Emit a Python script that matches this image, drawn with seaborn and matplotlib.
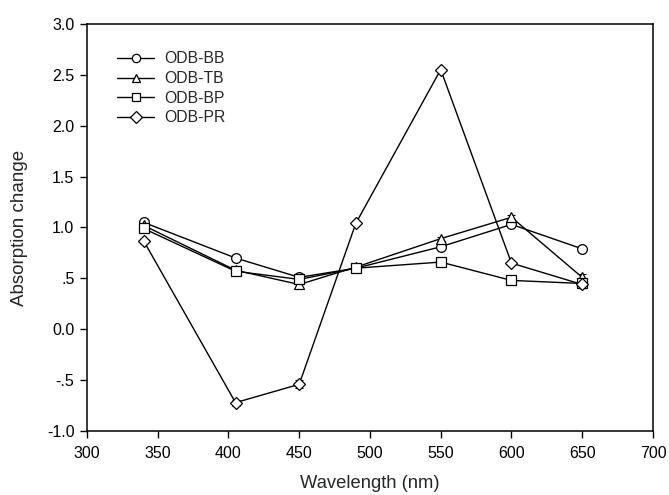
import matplotlib
matplotlib.use("Agg")
import matplotlib.pyplot as plt
import seaborn as sns
import pandas as pd
import numpy as np

wavelength = [340, 405, 450, 490, 550, 600, 650]
series_names = ["ODB-BB", "ODB-TB", "ODB-BP", "ODB-PR"]
bb = [1.05, 0.70, 0.51, 0.60, 0.81, 1.03, 0.79]
tb = [1.02, 0.58, 0.44, 0.61, 0.89, 1.10, 0.51]
bp = [0.99, 0.57, 0.49, 0.60, 0.66, 0.48, 0.45]
pr = [0.87, -0.72, -0.54, 1.04, 2.55, 0.65, 0.44]
bb_err = [0.02, 0.02, 0.02, 0.02, 0.02, 0.02, 0.02]
tb_err = [0.02, 0.02, 0.03, 0.02, 0.02, 0.02, 0.03]
bp_err = [0.02, 0.02, 0.02, 0.02, 0.02, 0.02, 0.02]
pr_err = [0.02, 0.03, 0.04, 0.02, 0.02, 0.02, 0.03]
yticks = [-1.0, -0.5, 0.0, 0.5, 1.0, 1.5, 2.0, 2.5, 3.0]
ytick_labels = ["-1.0", "-.5", "0.0", ".5", "1.0", "1.5", "2.0", "2.5", "3.0"]
xticks = [300, 350, 400, 450, 500, 550, 600, 650, 700]

sns.set_style("ticks")
plt.rcParams['font.family'] = ['Liberation Sans', 'DejaVu Sans']

rows = []
for name, vals, errs in zip(series_names, [bb, tb, bp, pr], [bb_err, tb_err, bp_err, pr_err]):
    for x, v, e in zip(wavelength, vals, errs):
        rows.append({"Wavelength": x, "Value": v, "Err": e, "Series": name})
df = pd.DataFrame(rows)

fig = plt.figure(figsize=(6.69, 4.95), dpi=100)
ax = fig.add_axes([0.130, 0.129, 0.846, 0.823])

markers = {"ODB-BB": "o", "ODB-TB": "^", "ODB-BP": "s", "ODB-PR": "D"}
sizes = {"ODB-BB": 7, "ODB-TB": 7, "ODB-BP": 6.5, "ODB-PR": 6}
for name in series_names:
    sub = df[df["Series"] == name]
    ax.errorbar(sub["Wavelength"], sub["Value"], yerr=sub["Err"], fmt="none",
                ecolor="black", elinewidth=0.8, capsize=3, capthick=0.8, zorder=2)
    sns.lineplot(data=sub, x="Wavelength", y="Value", ax=ax, color="black",
                 linewidth=1.0, marker=markers[name], markersize=sizes[name],
                 markerfacecolor="white", markeredgecolor="black",
                 markeredgewidth=0.9, label=name, zorder=3, sort=False)

ax.set_xlim(300, 700)
ax.set_ylim(-1.0, 3.0)
ax.set_xticks(xticks)
ax.set_yticks(yticks)
ax.set_yticklabels(ytick_labels)
ax.tick_params(axis="both", direction="out", length=5, width=1, labelsize=11.5,
               colors="black")
ax.tick_params(axis="x", pad=6)
ax.tick_params(axis="y", pad=4)
for s in ax.spines.values():
    s.set_linewidth(1.1)
    s.set_color("black")
ax.set_xlabel("Wavelength (nm)", fontsize=13.2)
ax.xaxis.set_label_coords(0.5, -0.108)
ax.set_ylabel("Absorption change", fontsize=13.5)
ax.yaxis.set_label_coords(-0.104, 0.5)

leg = ax.legend(loc="upper left", bbox_to_anchor=(0.047, 0.940), frameon=False,
                fontsize=11.3, handlelength=2.4, handletextpad=0.6,
                labelspacing=0.3, borderpad=0.2, borderaxespad=0)
for h in leg.legend_handles:
    h.set_markersize(6)

fig.savefig("out.png", dpi=100)
